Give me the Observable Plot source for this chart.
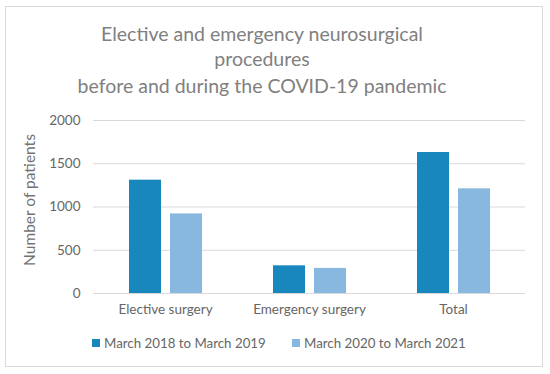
<!DOCTYPE html>
<html>
<head>
<meta charset="utf-8">
<script src="https://cdn.jsdelivr.net/npm/d3@7"></script>
<script src="https://cdn.jsdelivr.net/npm/@observablehq/plot@0.6"></script>
<style>
  html, body { margin: 0; padding: 0; background: #fff; }
  #wrap { position: relative; width: 550px; height: 374px; overflow: hidden; font-family: Lato, "Open Sans", sans-serif; }
  #frame { position: absolute; left: 5px; top: 6px; width: 538px; height: 361px; border: 1px solid #d9d9d9; box-sizing: border-box; }
  .tl { position: absolute; left: 0; width: 524px; text-align: center; color: #808080; font-size: 19.5px; line-height: 1; white-space: nowrap; }
  #ylab { position: absolute; left: 29px; top: 200px; transform: translate(-50%, -50%) rotate(-90deg); color: #737373; font-size: 15.5px; white-space: nowrap; }
  #plot { position: absolute; left: 0; top: 105px; }
  .leg { position: absolute; top: 335px; font-size: 13.3px; color: #666; white-space: nowrap; display: flex; align-items: center; }
  .sw { display: inline-block; width: 8px; height: 8px; margin-right: 4px; }
</style>
</head>
<body>
<div id="wrap">
  <div id="frame"></div>
  <div class="tl" style="top:24px">Elective and emergency neurosurgical</div>
  <div class="tl" style="top:49px">procedures</div>
  <div class="tl" style="top:76px">before and during the COVID-19 pandemic</div>
  <div id="ylab">Number of patients</div>
  <div id="plot"></div>
  <div id="legend"></div>
</div>
<script>
const categories = ["Elective surgery", "Emergency surgery", "Total"];
const periods = ["March 2018 to March 2019", "March 2020 to March 2021"];
const before = [1310, 320, 1630];
const during = [920, 290, 1210];
const yTicks = [0, 500, 1000, 1500, 2000];
const colors = ["#1787be", "#88b8e0"];

const data = [];
categories.forEach((c, i) => {
  data.push({category: c, period: periods[0], value: before[i]});
  data.push({category: c, period: periods[1], value: during[i]});
});

const chart = Plot.plot({
  width: 550,
  height: 220,
  marginTop: 15,
  marginBottom: 32,
  marginLeft: 93,
  marginRight: 25,
  style: {fontFamily: "Lato, 'Open Sans', sans-serif", fontSize: "13.5px", color: "#666", background: "transparent"},
  fx: {domain: categories, padding: 0, label: null, axis: "bottom", tickSize: 0, tickPadding: 11},
  x: {domain: periods, paddingInner: 0.22, paddingOuter: 0.866, axis: null},
  y: {domain: [0, 2000], ticks: yTicks, tickSize: 0, tickPadding: 13, label: null, tickFormat: d => String(d)},
  color: {domain: periods, range: colors},
  marks: [
    Plot.ruleY(yTicks, {stroke: "#d9d9d9", strokeWidth: 1}),
    Plot.barY(data, {fx: "category", x: "period", y: "value", fill: "period"})
  ]
});
document.getElementById("plot").appendChild(chart);

const legend = document.getElementById("legend");
const legX = [92, 292];
periods.forEach((p, i) => {
  const d = document.createElement("div");
  d.className = "leg";
  d.style.left = legX[i] + "px";
  d.innerHTML = `<span class="sw" style="background:${colors[i]}"></span>${p}`;
  legend.appendChild(d);
});
</script>
</body>
</html>
